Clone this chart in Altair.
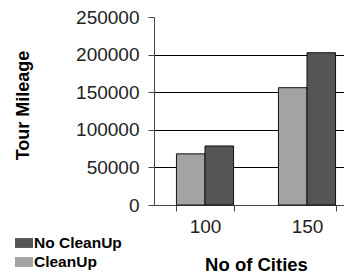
import altair as alt
import pandas as pd

cities = ["100", "100", "150", "150"]
series = ["CleanUp", "No CleanUp", "CleanUp", "No CleanUp"]
mileage = [68000, 78500, 156000, 202500]
y_ticks = [0, 50000, 100000, 150000, 200000, 250000]
legend_order = ["No CleanUp", "CleanUp"]
bar_order = ["CleanUp", "No CleanUp"]
colors = ["#555555", "#a3a3a3"]

df = pd.DataFrame({"cities": cities, "series": series, "mileage": mileage})

font = "Liberation Sans"

chart = alt.Chart(df).mark_bar(stroke="#111111", strokeWidth=1).encode(
    x=alt.X(
        "cities:N",
        sort=["100", "150"],
        scale=alt.Scale(paddingInner=0.44, paddingOuter=0.22, range=[0, 204]),
        axis=alt.Axis(
            title="No of Cities",
            labelAngle=0,
            tickBand="extent",
            tickSize=6,
            tickColor="#444444",
            domainColor="#444444",
            labelFont=font,
            labelFontSize=19,
            labelColor="#222222",
            labelPadding=6,
            titleFont=font,
            titleFontSize=18.5,
            titleFontWeight="bold",
            titleColor="#000000",
            titlePadding=19,
        ),
    ),
    xOffset=alt.XOffset("series:N", sort=bar_order,
                        scale=alt.Scale(paddingInner=0, paddingOuter=0)),
    y=alt.Y(
        "mileage:Q",
        scale=alt.Scale(domain=[0, 250000], nice=False),
        axis=alt.Axis(
            title="Tour Mileage",
            values=y_ticks,
            format="d",
            grid=True,
            gridColor="#000000",
            gridOpacity={"condition": {"test": "datum.value === 250000", "value": 0}, "value": 1},
            tickSize=6,
            tickColor="#444444",
            domainColor="#444444",
            labelFont=font,
            labelFontSize=19,
            labelColor="#222222",
            labelPadding=9,
            titleFont=font,
            titleFontSize=18,
            titleFontWeight="bold",
            titleColor="#000000",
            titlePadding=43,
            titleY=88,
        ),
    ),
    color=alt.Color(
        "series:N",
        scale=alt.Scale(domain=legend_order, range=colors),
        legend=alt.Legend(
            title=None,
            orient="none",
            legendX=-139,
            legendY=217,
            symbolType="M-1,-0.55H1V0.55H-1Z",
            symbolSize=324,
            symbolStrokeWidth=0,
            symbolOpacity=1,
            labelFont=font,
            labelFontSize=15.5,
            labelFontWeight="bold",
            labelColor="#000000",
            labelOffset=1,
            rowPadding=1,
            padding=0,
        ),
    ),
).properties(
    width=190,
    height=188,
    autosize=alt.AutoSizeParams(type="none"),
    padding={"left": 146, "top": 9, "right": 0, "bottom": 68},
).configure_view(stroke=None)

chart.save("out.html", embed_options={"renderer": "svg", "actions": False})
